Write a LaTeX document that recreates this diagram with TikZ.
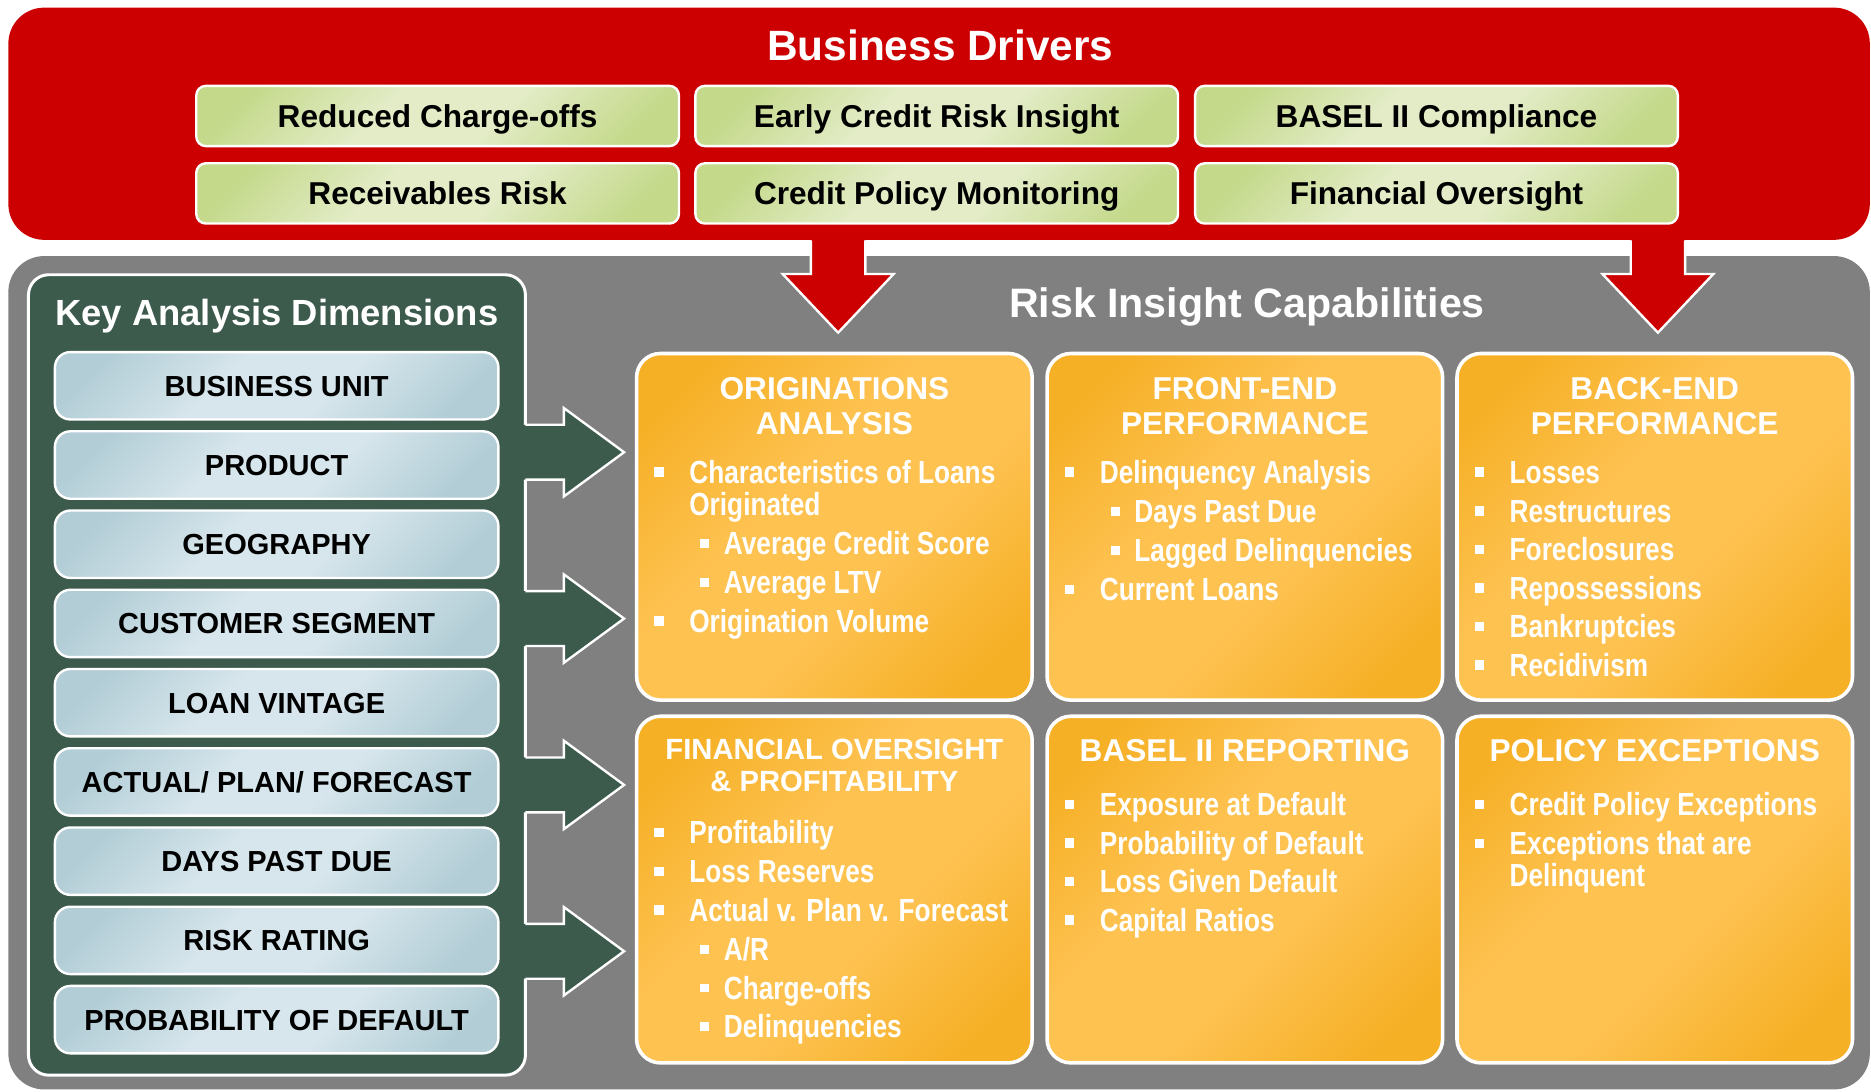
\documentclass[tikz,border=0pt]{standalone}
\usepackage{fontspec}
\setmainfont{Liberation Sans}
\newfontfamily\narrowfont[FakeStretch=0.82]{Liberation Sans}
\definecolor{drvred}{HTML}{CC0000}
\definecolor{capgray}{HTML}{808080}
\definecolor{dimgreen}{HTML}{3C5B4D}
\definecolor{gdark}{HTML}{C4D98A}
\definecolor{glight}{HTML}{E3ECC7}
\definecolor{bdark}{HTML}{B2CDD6}
\definecolor{blight}{HTML}{D7E6EC}
\definecolor{odark}{HTML}{F6B026}
\definecolor{olight}{HTML}{FEC251}
\pgfdeclarehorizontalshading{grshade}{100bp}{color(0bp)=(gdark); color(22bp)=(gdark); color(42bp)=(glight); color(58bp)=(glight); color(78bp)=(gdark); color(100bp)=(gdark)}
\pgfdeclarehorizontalshading{blshade}{100bp}{color(0bp)=(bdark); color(22bp)=(bdark); color(42bp)=(blight); color(58bp)=(blight); color(78bp)=(bdark); color(100bp)=(bdark)}
\pgfdeclarehorizontalshading{orshade}{100bp}{color(0bp)=(odark); color(22bp)=(odark); color(42bp)=(olight); color(58bp)=(olight); color(78bp)=(odark); color(100bp)=(odark)}
\newcommand\sqbul{\raisebox{5.5pt}{\rule{8pt}{8pt}}}
\newcommand\sqbulb{\raisebox{5.5pt}{\rule{7.5pt}{7.5pt}}}
\newcommand\itemA[1]{\hspace*{0pt}\sqbul\hspace*{21.5pt}#1}
\newcommand\itemB[1]{\hspace*{38.5pt}\sqbulb\hspace*{12.5pt}#1}
\newcommand\itemC[1]{\hspace*{29.5pt}#1}
\newcommand\lst[1]{\parbox[t]{320pt}{\raggedright #1}}
\newcommand\ttl[1]{\parbox[t]{330pt}{\centering #1}}
\newcommand\dimarrow[1]{%
 \fill[dimgreen] (436,#1-23) -- (472.6,#1-23) -- (472.6,#1-37) -- (523,#1) -- (472.6,#1+37) -- (472.6,#1+23) -- (436,#1+23) -- cycle;
 \draw[white, line width=2pt, line join=miter] (440.35,#1-23) -- (472.6,#1-23) -- (472.6,#1-37) -- (523,#1) -- (472.6,#1+37) -- (472.6,#1+23) -- (440.35,#1+23);
}
\newcommand\drvarrow[1]{%
 \fill[drvred] (#1-22.8,190) -- (#1-22.8,229.6) -- (#1-46.5,229.6) -- (#1,278.8) -- (#1+46.5,229.6) -- (#1+22.8,229.6) -- (#1+22.8,190) -- cycle;
 \draw[white, line width=2pt, line join=miter] (#1-22.8,201.5) -- (#1-22.8,229.6) -- (#1-46.5,229.6) -- (#1,278.8) -- (#1+46.5,229.6) -- (#1+22.8,229.6) -- (#1+22.8,201.5);
}
\tikzset{
 bigpanel/.style={rounded corners=30pt, inner sep=0pt, minimum width=1560pt},
 drvbox/.style={draw=white, line width=2pt, rounded corners=8pt, shade, shading=grshade, shading angle=-45,
   minimum width=404.5pt, minimum height=50.5pt, inner sep=0pt, text=black,
   font=\bfseries\fontsize{26.5pt}{30pt}\selectfont, text height=19pt, text depth=0pt},
 dimbox/.style={draw=white, line width=2pt, rounded corners=13pt, shade, shading=blshade, shading angle=-45,
   minimum width=371.7pt, minimum height=56.5pt, inner sep=0pt, text=black,
   font=\bfseries\fontsize{24.3pt}{28pt}\selectfont, text height=17.4pt, text depth=0pt},
 ocbox/.style={draw=white, line width=3pt, rounded corners=20pt, shade, shading=orshade, shading angle=-45,
   minimum width=331.5pt, minimum height=290.5pt, inner sep=0pt},
 bigtitle/.style={text=white, inner sep=0pt, anchor=base, font=\bfseries\fontsize{35.5pt}{40pt}\selectfont},
 octitle/.style={text=white, inner sep=0pt, anchor=base, font=\bfseries\fontsize{26.5pt}{29.5pt}\selectfont},
 octitlesm/.style={text=white, inner sep=0pt, anchor=base, font=\bfseries\fontsize{24.5pt}{26.7pt}\selectfont},
 oclist/.style={text=white, inner sep=0pt, anchor=base west, font=\narrowfont\bfseries\fontsize{26.8pt}{26.7pt}\selectfont},
}
\begin{document}
\begin{tikzpicture}[x=1pt,y=-1pt]
\useasboundingbox (0,0) rectangle (1568,915);
% panels
\node[bigpanel, fill=capgray, minimum height=698.4pt] (caps) at (787,563.8) {};
\node[bigpanel, fill=drvred, minimum height=194.6pt] (drivers) at (787,103.7) {};
\drvarrow{702.4}
\drvarrow{1389.4}
\node[bigtitle] (drvtitle) at (788,50.8) {Business Drivers};
\node[bigtitle, font=\bfseries\fontsize{34.5pt}{40pt}\selectfont] (captitle) at (1045,266) {Risk Insight Capabilities};
% drivers
\node[drvbox] (d1) at (366.75,97.2) {Reduced Charge-offs};
\node[drvbox] (d2) at (785,97.2) {Early Credit Risk Insight};
\node[drvbox] (d3) at (1203.85,97.2) {BASEL II Compliance};
\node[drvbox] (d4) at (366.75,162.1) {Receivables Risk};
\node[drvbox] (d5) at (785,162.1) {Credit Policy Monitoring};
\node[drvbox] (d6) at (1203.85,162.1) {Financial Oversight};
% dimensions panel
\node[draw=white, line width=2.5pt, fill=dimgreen, rounded corners=17pt, inner sep=0pt,
  minimum width=416.5pt, minimum height=670.8pt] (dims) at (232.1,565.65) {};
\dimarrow{379}
\dimarrow{518.4}
\dimarrow{657.8}
\dimarrow{797.2}
\node[text=white, inner sep=0pt, anchor=base, font=\bfseries\fontsize{30.5pt}{34pt}\selectfont] (dimtitle) at (232,273) {Key Analysis Dimensions};
\node[dimbox] (k1) at (231.85,323.3) {BUSINESS UNIT};
\node[dimbox] (k2) at (231.85,389.7) {PRODUCT};
\node[dimbox] (k3) at (231.85,456.1) {GEOGRAPHY};
\node[dimbox] (k4) at (231.85,522.5) {CUSTOMER SEGMENT};
\node[dimbox] (k5) at (231.85,588.9) {LOAN VINTAGE};
\node[dimbox] (k6) at (231.85,655.3) {ACTUAL/ PLAN/ FORECAST};
\node[dimbox] (k7) at (231.85,721.7) {DAYS PAST DUE};
\node[dimbox] (k8) at (231.85,788.1) {RISK RATING};
\node[dimbox] (k9) at (231.85,854.5) {PROBABILITY OF DEFAULT};
% capability boxes
\node[ocbox] (o1) at (699.25,441.5) {};
\node[ocbox] (o2) at (1043.25,441.5) {};
\node[ocbox] (o3) at (1386.75,441.5) {};
\node[ocbox] (o4) at (699.25,745.5) {};
\node[ocbox] (o5) at (1043.25,745.5) {};
\node[ocbox] (o6) at (1386.75,745.5) {};
\node[octitle] (t1) at ([yshift=-40.25pt]o1.north) {\ttl{ORIGINATIONS\\ANALYSIS}};
\node[octitle] (t2) at ([yshift=-40.25pt]o2.north) {\ttl{FRONT-END\\PERFORMANCE}};
\node[octitle] (t3) at ([yshift=-40.25pt]o3.north) {\ttl{BACK-END\\PERFORMANCE}};
\node[octitlesm] (t4) at ([yshift=-37.75pt]o4.north) {\ttl{FINANCIAL OVERSIGHT\\\& PROFITABILITY}};
\node[octitle] (t5) at ([yshift=-39.5pt]o5.north) {\ttl{BASEL II REPORTING}};
\node[octitle] (t6) at ([yshift=-39.5pt]o6.north) {\ttl{POLICY EXCEPTIONS}};
\node[oclist] (l1) at ([xshift=16pt,yshift=-110.5pt]o1.north west) {\lst{\itemA{Characteristics of Loans}\\\itemC{Originated}\\[6pt]\itemB{Average Credit Score}\\[6pt]\itemB{Average LTV}\\[6pt]\itemA{Origination Volume}}};
\node[oclist] (l2) at ([xshift=16pt,yshift=-110.5pt]o2.north west) {\lst{\itemA{Delinquency Analysis}\\[6pt]\itemB{Days Past Due}\\[6pt]\itemB{Lagged Delinquencies}\\[6pt]\itemA{Current Loans}}};
\node[oclist] (l3) at ([xshift=16pt,yshift=-110.5pt]o3.north west) {\lst{\itemA{Losses}\\[5.6pt]\itemA{Restructures}\\[5.6pt]\itemA{Foreclosures}\\[5.6pt]\itemA{Repossessions}\\[5.6pt]\itemA{Bankruptcies}\\[5.6pt]\itemA{Recidivism}}};
\node[oclist] (l4) at ([xshift=16pt,yshift=-108.5pt]o4.north west) {\lst{\itemA{Profitability}\\[5.8pt]\itemA{Loss Reserves}\\[5.8pt]\itemA{Actual v. Plan v. Forecast}\\[5.8pt]\itemB{A/R}\\[5.8pt]\itemB{Charge-offs}\\[5.8pt]\itemB{Delinquencies}}};
\node[oclist] (l5) at ([xshift=16pt,yshift=-85pt]o5.north west) {\lst{\itemA{Exposure at Default}\\[5.6pt]\itemA{Probability of Default}\\[5.6pt]\itemA{Loss Given Default}\\[5.6pt]\itemA{Capital Ratios}}};
\node[oclist] (l6) at ([xshift=16pt,yshift=-85pt]o6.north west) {\lst{\itemA{Credit Policy Exceptions}\\[5.8pt]\itemA{Exceptions that are}\\\itemC{Delinquent}}};
\end{tikzpicture}
\end{document}
